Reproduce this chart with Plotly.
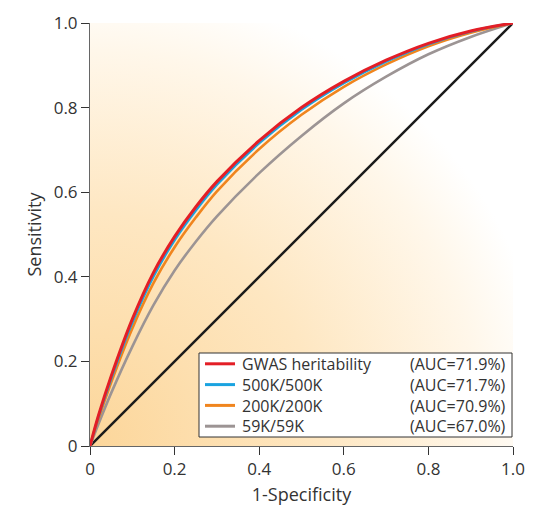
import plotly.graph_objects as go

# False positive rate (1-Specificity) sample points
fpr = [0, 0.02, 0.05, 0.1, 0.15, 0.2, 0.25, 0.3, 0.4, 0.5, 0.6, 0.7, 0.8, 0.9, 1.0]

# Sensitivity values per model
tpr_gwas = [0, 0.072, 0.165, 0.300, 0.410, 0.495, 0.565, 0.625, 0.722, 0.800, 0.862, 0.912, 0.952, 0.981, 1.0]
tpr_500k = [0, 0.069, 0.159, 0.292, 0.401, 0.487, 0.557, 0.618, 0.716, 0.795, 0.858, 0.909, 0.950, 0.980, 1.0]
tpr_200k = [0, 0.064, 0.150, 0.278, 0.385, 0.470, 0.540, 0.602, 0.702, 0.783, 0.849, 0.902, 0.945, 0.977, 1.0]
tpr_59k = [0, 0.052, 0.125, 0.235, 0.333, 0.415, 0.483, 0.543, 0.645, 0.733, 0.810, 0.873, 0.926, 0.967, 1.0]

names = ["GWAS heritability", "500K/500K", "200K/200K", "59K/59K"]
auc_labels = ["(AUC=71.9%)", "(AUC=71.7%)", "(AUC=70.9%)", "(AUC=67.0%)"]
colors = ["#E31E26", "#1AA3E0", "#F0851E", "#9C9494"]
series = [tpr_gwas, tpr_500k, tpr_200k, tpr_59k]

diag = [0, 1]

FONT = "Open Sans"
TXT = "#333333"
LEG_SIZE = 16
LINE_H = LEG_SIZE * 1.3  # plotly multi-line spacing

# page offset of the plotly div (default body margin)
OFF = 8
# plot-area geometry in page px
L, T, PW, PH = 90, 23, 423, 423
FW, FH = 536 - OFF, 506 - OFF

def px_x(p):
    return (p - L) / PW
def px_y(p):
    return (T + PH - p) / PH

fig = go.Figure()

# background radial gradient (decorative), centred on the origin
R = 1.1
fig.add_trace(go.Scatter(
    x=[-R, R, R, -R, -R], y=[-R, -R, R, R, -R],
    mode="none", fill="toself",
    fillgradient=dict(type="radial",
                      colorscale=[[0, "#FCD69A"], [0.5, "#FEE7C2"], [0.85, "#FFF7EA"], [1, "#FFFFFF"]]),
    showlegend=False, hoverinfo="skip"))

fig.add_trace(go.Scatter(x=diag, y=diag, mode="lines",
                         line=dict(color="#1A1A1A", width=2.5),
                         showlegend=False, hoverinfo="skip"))

for i in reversed(range(4)):
    fig.add_trace(go.Scatter(x=fpr, y=series[i], mode="lines", name=names[i],
                             showlegend=False,
                             line=dict(color=colors[i], width=3 if i == 0 else 2.6,
                                       shape="spline", smoothing=1.0)))

axis_common = dict(range=[0, 1], showgrid=False, zeroline=False, showline=True,
                   linecolor="#666666", linewidth=1, ticks="outside", ticklen=8,
                   tickcolor="#333333", tickfont=dict(family=FONT, size=17, color=TXT),
                   tickvals=[0, 0.2, 0.4, 0.6, 0.8, 1.0],
                   ticktext=["0", "0.2", "0.4", "0.6", "0.8", "1.0"],
                   automargin=False, fixedrange=True)

fig.update_layout(
    width=FW, height=FH,
    margin=dict(l=L - OFF, r=FW - (L - OFF) - PW, t=T - OFF, b=FH - (T - OFF) - PH),
    paper_bgcolor="white", plot_bgcolor="white",
    xaxis=dict(**axis_common, title=dict(text="1-Specificity", standoff=12,
                                         font=dict(family=FONT, size=18, color=TXT))),
    yaxis=dict(**axis_common, title=dict(text="Sensitivity", standoff=7,
                                         font=dict(family=FONT, size=18, color=TXT))),
    showlegend=False,
)

# legend box
fig.add_shape(type="rect", xref="paper", yref="paper",
              x0=px_x(199), x1=px_x(512), y0=px_y(437), y1=px_y(353),
              fillcolor="white", line=dict(color="#333333", width=1), layer="above")

center_py = 395
row_py = [center_py + (k - 1.5) * LINE_H for k in range(4)]
for i, py in enumerate(row_py):
    fig.add_shape(type="line", xref="paper", yref="paper",
                  x0=px_x(205), x1=px_x(235), y0=px_y(py), y1=px_y(py),
                  line=dict(color=colors[i], width=3), layer="above")

fig.add_annotation(x=px_x(240), y=px_y(center_py), xref="paper", yref="paper",
                   text="<br>".join(names), align="left",
                   showarrow=False, xanchor="left", yanchor="middle",
                   font=dict(family=FONT, size=LEG_SIZE, color=TXT))
fig.add_annotation(x=px_x(508), y=px_y(center_py), xref="paper", yref="paper",
                   text="<br>".join(auc_labels), align="right",
                   showarrow=False, xanchor="right", yanchor="middle",
                   font=dict(family=FONT, size=LEG_SIZE, color=TXT))

fig.write_html("out.html")
